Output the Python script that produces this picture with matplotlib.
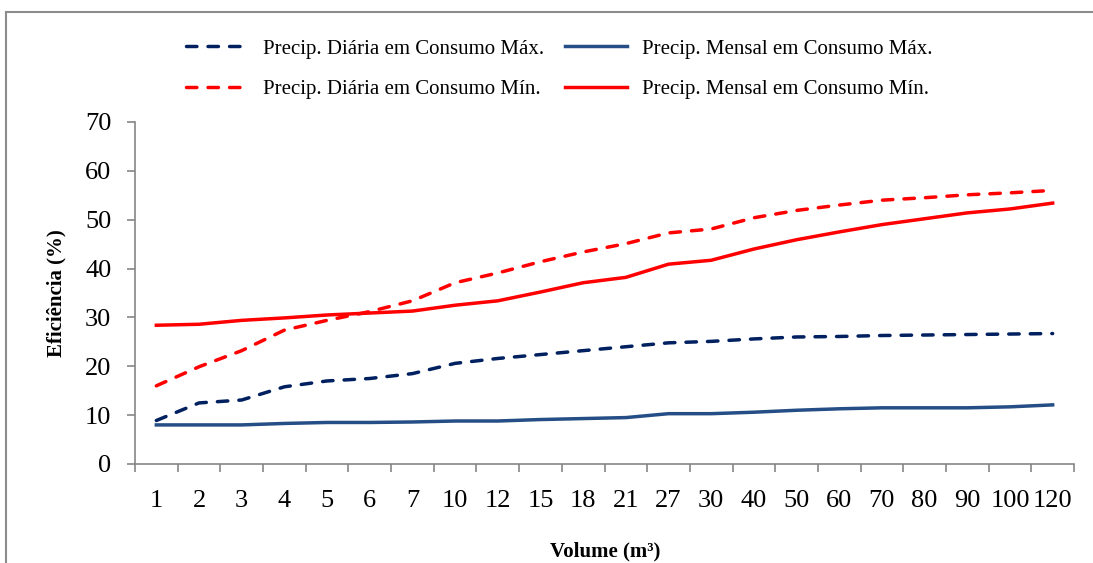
import matplotlib
matplotlib.use("Agg")
import matplotlib.pyplot as plt
from matplotlib.lines import Line2D

plt.rcParams["font.family"] = ["Liberation Serif", "DejaVu Serif"]

volumes = ["1", "2", "3", "4", "5", "6", "7", "10", "12", "15", "18", "21",
           "27", "30", "40", "50", "60", "70", "80", "90", "100", "120"]

diaria_max = [8.9, 12.5, 13.1, 15.8, 17.0, 17.5, 18.5, 20.6, 21.6, 22.4, 23.2, 24.0,
              24.8, 25.1, 25.6, 26.0, 26.1, 26.3, 26.4, 26.5, 26.6, 26.7]
mensal_max = [8.0, 8.0, 8.0, 8.3, 8.5, 8.5, 8.6, 8.8, 8.8, 9.1, 9.3, 9.5,
              10.3, 10.3, 10.6, 11.0, 11.3, 11.5, 11.5, 11.5, 11.7, 12.1]
diaria_min = [16.0, 19.9, 23.2, 27.4, 29.4, 31.2, 33.4, 37.1, 39.1, 41.4, 43.4, 45.1,
              47.3, 48.1, 50.4, 51.9, 53.0, 54.0, 54.5, 55.1, 55.5, 56.0]
mensal_min = [28.4, 28.6, 29.4, 29.9, 30.5, 30.9, 31.3, 32.5, 33.4, 35.2, 37.1, 38.2,
              40.9, 41.7, 44.0, 45.9, 47.5, 49.0, 50.2, 51.4, 52.2, 53.4]

W, H = 1093, 563
fig = plt.figure(figsize=(W / 100, H / 100), dpi=100)
ax = fig.add_axes([135 / W, 1 - 464 / H, (1074 - 135) / W, (464 - 122) / H])

x = range(len(volumes))
dash = (0, (3.0, 3.2))
lw = 2.5
l1, = ax.plot(x, diaria_max, color="#002060", lw=lw, linestyle=dash,
              dash_capstyle="round", label="Precip. Diária em Consumo Máx.")
l2, = ax.plot(x, mensal_max, color="#254e86", lw=lw,
              label="Precip. Mensal em Consumo Máx.")
l3, = ax.plot(x, diaria_min, color="#ff0000", lw=lw, linestyle=dash,
              dash_capstyle="round", label="Precip. Diária em Consumo Mín.")
l4, = ax.plot(x, mensal_min, color="#ff0000", lw=lw,
              label="Precip. Mensal em Consumo Mín.")

ax.set_xlim(-0.5, len(volumes) - 0.5)
ax.set_ylim(0, 70)
ax.set_yticks(range(0, 71, 10))
ax.set_xticks(list(x))
ax.set_xticklabels(volumes)
ax.set_xticks([i - 0.5 for i in range(len(volumes) + 1)], minor=True)

for s in ["top", "right"]:
    ax.spines[s].set_visible(False)
for s in ["left", "bottom"]:
    ax.spines[s].set_color("#868686")
    ax.spines[s].set_linewidth(1.2)

ax.tick_params(axis="x", which="major", length=0, pad=19, labelsize=19)
ax.tick_params(axis="x", which="minor", length=6, width=1.2, color="#868686",
               direction="out")
ax.tick_params(axis="y", length=6, width=1.2, color="#868686", pad=11, labelsize=19)

fig.text(56 / W, 1 - 293 / H, "Eficiência (%)", rotation=90, ha="center",
         va="center", fontsize=15, fontweight="bold")
fig.text(605 / W, 1 - 551 / H, "Volume (m³)", ha="center", va="center",
         fontsize=15, fontweight="bold")

fig.legend(handles=[l1, l3, l2, l4], ncol=2, loc="center",
           bbox_to_anchor=(559 / W, 1 - 69 / H), frameon=False, fontsize=15,
           handlelength=3.0, handletextpad=0.7, columnspacing=1.0,
           labelspacing=1.0)

# outer frame (left and top edges only)
fig.add_artist(Line2D([6 / W, 6 / W], [0, 1 - 11.5 / H], color="#8c8c8c", lw=1.5))
fig.add_artist(Line2D([6 / W, 1], [1 - 11.5 / H, 1 - 11.5 / H], color="#8c8c8c", lw=1.5))

fig.savefig("out.png", dpi=100)
